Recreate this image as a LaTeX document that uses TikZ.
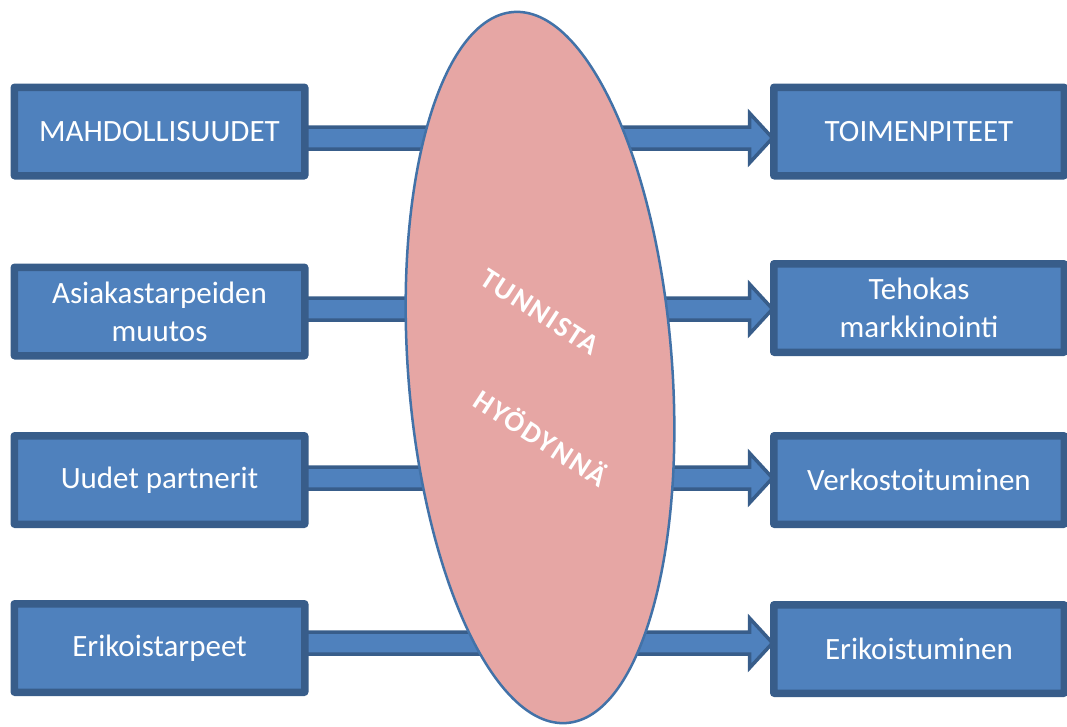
\documentclass[tikz,border=0pt]{standalone}
\usepackage{fontspec}
\setmainfont{Carlito}
\newfontfamily\arcfont[LetterSpace=6]{Carlito}
\usetikzlibrary{shapes.geometric,calc}
\definecolor{boxfill}{HTML}{4F81BD}
\definecolor{boxline}{HTML}{385D8A}
\definecolor{ovalfill}{HTML}{E6A6A4}
\definecolor{ovalline}{HTML}{4272A8}
\tikzset{
  box/.style={draw=boxline, fill=boxfill, line width=5pt, rounded corners=2pt,
    minimum width=288pt, minimum height=86pt, text=white, align=center,
    font=\fontsize{31}{38}\selectfont, inner sep=0pt},
  flow/.style={draw=boxline, fill=boxfill, line width=3.5pt, line join=miter},
  oval/.style={ellipse, draw=ovalline, fill=ovalfill, line width=2.5pt,
    minimum width=264pt, minimum height=713pt, inner sep=0pt},
  ovaltext/.style={text=white, font=\arcfont\bfseries\fontsize{29}{31}\selectfont, rotate=-33}
}
\begin{document}
\begin{tikzpicture}[x=1pt, y=-1pt]
\useasboundingbox (0,0) rectangle (1067,726);

% input boxes
\node[box] (l1) at (159.5,131.5) {MAHDOLLISUUDET};
\node[box] (l2) at (159.5,311.5) {Asiakastarpeiden\\muutos};
\node[box] (l3) at (159.5,480) {Uudet partnerit};
\node[box] (l4) at (159.5,648) {Erikoistarpeet};

% action boxes
\node[box] (r1) at (919,131.5) {TOIMENPITEET};
\node[box] (r2) at (919,308) {Tehokas\\markkinointi};
\node[box] (r3) at (919,480) {Verkostoituminen};
\node[box] (r4) at (919,649) {Erikoistuminen};

% block arrows from each input box to its action box
\foreach \i/\yy in {1/138,2/309,3/478,4/643}{
  \draw[flow]
    let \p1 = (l\i.east), \p2 = (r\i.west) in
    (\x1-2pt,\yy-11) -- (\x2-23pt,\yy-11) -- (\x2-23pt,\yy-25)
    -- (\x2,\yy) -- (\x2-23pt,\yy+25) -- (\x2-23pt,\yy+11)
    -- (\x1-2pt,\yy+11) -- cycle;
}
% redraw box outlines over the arrow ends
\foreach \n in {l1,l2,l3,l4,r1,r2,r3,r4}{
  \draw[draw=boxline, line width=5pt, rounded corners=2pt]
    (\n.south west) rectangle (\n.north east);
}

% central oval
\node[oval, rotate=4.3] (e) at (540,367.5) {};
\node[ovaltext] (t1) at (540,312) {TUNNISTA};
\node[ovaltext] (t2) at (542,437) {HYÖDYNNÄ};
\end{tikzpicture}
\end{document}
